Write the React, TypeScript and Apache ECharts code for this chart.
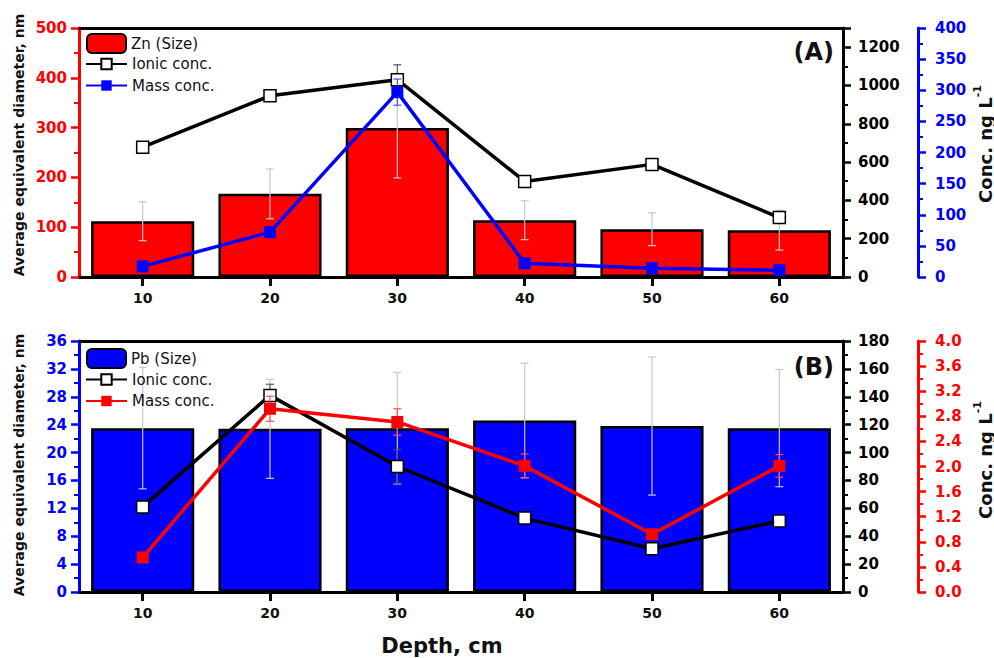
import React, { useEffect, useRef } from "react";
import * as echarts from "echarts";

const depths = ["10", "20", "30", "40", "50", "60"];

const znSize = [112, 167, 299, 114, 96, 94];
const znSizeErr = [39, 50, 100, 39, 33, 40];
const znIonic = [678, 946, 1030, 499, 588, 310];
const znIonicErr = [8, 12, 78, 8, 8, 15];
const znMass = [17, 72, 297, 22, 14, 11];
const znMassErr = [3, 3, 21, 3, 2, 2];

const pbSize = [23.5, 23.4, 23.5, 24.6, 23.8, 23.5];
const pbSizeErr = [8.7, 7.1, 8.0, 8.2, 9.9, 8.4];
const pbIonic = [61, 141, 90, 53, 31, 51];
const pbIonicErr = [3, 8, 12, 4, 3, 4];
const pbMass = [0.55, 2.92, 2.71, 2.01, 0.92, 2.01];
const pbMassErr = [0.05, 0.2, 0.21, 0.19, 0.05, 0.18];

const FONT = "DejaVu Sans, Liberation Sans, sans-serif";
const RED = "#ff0000";
const BLUE = "#0000ff";

function yAx(gridIndex: number, position: string, min: number, max: number, interval: number, color: string, extra: any = {}) {
  return {
    type: "value",
    gridIndex,
    position,
    min,
    max,
    interval,
    offset: extra.offset || 0,
    splitLine: { show: false },
    axisLine: { show: true, lineStyle: { color, width: 3 } },
    axisTick: { show: true, length: 8, lineStyle: { color, width: 2.5 } },
    minorTick: { show: true, splitNumber: 2, length: 5, lineStyle: { color, width: 2 } },
    axisLabel: {
      color,
      fontFamily: FONT,
      fontWeight: "bold",
      fontSize: 15,
      margin: extra.margin || 12,
      showMaxLabel: extra.showMaxLabel,
      formatter: extra.formatter || ((v: number) => String(v)),
    },
  };
}

function xAx(gridIndex: number, bottom: boolean) {
  return {
    type: "category",
    gridIndex,
    position: bottom ? "bottom" : "top",
    data: depths,
    axisLine: { show: true, onZero: false, lineStyle: { color: "#000", width: 3 } },
    axisTick: { show: bottom, alignWithLabel: true, length: 9, lineStyle: { color: "#000", width: 3 } },
    axisLabel: { show: bottom, color: "#111", fontFamily: FONT, fontWeight: "bold", fontSize: 14, margin: 14 },
    splitLine: { show: false },
  };
}

function errSeries(xAxisIndex: number, yAxisIndex: number, vals: number[], errs: number[], color: string, cap: number, width: number, z: number) {
  return {
    type: "custom",
    xAxisIndex,
    yAxisIndex,
    silent: true,
    z,
    data: vals.map((v, i) => [i, v - errs[i], v + errs[i]]),
    encode: { x: 0, y: [1, 2] },
    renderItem: (params: any, api: any) => {
      const x = api.value(0);
      const lo = api.coord([x, api.value(1)]);
      const hi = api.coord([x, api.value(2)]);
      const style = { stroke: color, lineWidth: width };
      return {
        type: "group",
        children: [
          { type: "line", shape: { x1: lo[0], y1: lo[1], x2: hi[0], y2: hi[1] }, style },
          { type: "line", shape: { x1: lo[0] - cap, y1: lo[1], x2: lo[0] + cap, y2: lo[1] }, style },
          { type: "line", shape: { x1: hi[0] - cap, y1: hi[1], x2: hi[0] + cap, y2: hi[1] }, style },
        ],
      };
    },
  };
}

function barSeries(name: string, xi: number, yi: number, data: number[], color: string) {
  return {
    name,
    type: "bar",
    xAxisIndex: xi,
    yAxisIndex: yi,
    data,
    z: 2,
    barCategoryGap: "19%",
    itemStyle: { color, borderColor: "#000", borderWidth: 2.5 },
  };
}

function lineSeries(name: string, xi: number, yi: number, data: number[], lineColor: string, fill: string, z: number) {
  return {
    name,
    type: "line",
    xAxisIndex: xi,
    yAxisIndex: yi,
    data,
    z,
    symbol: "rect",
    symbolSize: 12,
    lineStyle: { color: lineColor, width: 3.5 },
    itemStyle: { color: fill, borderColor: lineColor, borderWidth: fill === "#fff" ? 1.5 : 0 },
  };
}

const legendText = { fontFamily: FONT, fontSize: 15, color: "#111" };

export default function App() {
  const ref = useRef<HTMLDivElement>(null);
  useEffect(() => {
    if (!ref.current) return;
    const chart = echarts.init(ref.current, null, { renderer: "svg" });
    const titleLeft = "Average equivalent diameter, nm";
    const concRich = {
      a: { fontFamily: FONT, fontWeight: "bold", fontSize: 18, fill: "#111", verticalAlign: "bottom", lineHeight: 22 },
      b: { fontFamily: FONT, fontWeight: "bold", fontSize: 11, fill: "#111", verticalAlign: "top", lineHeight: 22 },
    };
    const option: any = {
      animation: false,
      backgroundColor: "#fff",
      grid: [
        { left: 79, top: 28, width: 764, height: 249 },
        { left: 79, top: 341, width: 764, height: 251 },
      ],
      legend: [
        { left: 86, top: 33, padding: 0, orient: "vertical", itemWidth: 39, itemHeight: 19, data: ["Zn (Size)"], textStyle: legendText, selectedMode: false },
        { left: 85, top: 56.5, padding: 0, orient: "vertical", itemWidth: 41, itemHeight: 13, itemGap: 6.5, data: ["Ionic conc.", "Mass conc."], textStyle: legendText, selectedMode: false },
        { left: 86, top: 348, padding: 0, orient: "vertical", itemWidth: 39, itemHeight: 19, data: ["Pb (Size)"], textStyle: legendText, selectedMode: false },
        { left: 85, top: 372, padding: 0, orient: "vertical", itemWidth: 41, itemHeight: 13, itemGap: 6.5, data: ["Ionic conc. ", "Mass conc. "], textStyle: legendText, selectedMode: false },
      ],
      xAxis: [xAx(0, true), xAx(0, false), xAx(1, true), xAx(1, false)],
      yAxis: [
        yAx(0, "left", 0, 500, 100, RED),
        yAx(0, "right", 0, 1300, 200, "#000", { margin: 15, showMaxLabel: false }),
        yAx(0, "right", 0, 400, 50, BLUE, { offset: 75, margin: 17 }),
        yAx(1, "left", 0, 36, 4, BLUE),
        yAx(1, "right", 0, 180, 20, "#000", { margin: 15 }),
        yAx(1, "right", 0, 4, 0.4, RED, { offset: 75, margin: 17, formatter: (v: number) => v.toFixed(1) }),
      ],
      series: [
        barSeries("Zn (Size)", 0, 0, znSize, RED),
        errSeries(0, 0, znSize, znSizeErr, "#c8c8c8", 4, 1.2, 3),
        errSeries(0, 1, znIonic, znIonicErr, "#555", 4, 1.2, 3),
        lineSeries("Ionic conc.", 0, 1, znIonic, "#000", "#fff", 4),
        errSeries(0, 2, znMass, znMassErr, "#4d4dff", 4, 1.2, 5),
        lineSeries("Mass conc.", 0, 2, znMass, BLUE, BLUE, 6),

        barSeries("Pb (Size)", 2, 3, pbSize, BLUE),
        errSeries(2, 3, pbSize, pbSizeErr, "#c8c8c8", 4, 1.2, 3),
        errSeries(2, 4, pbIonic, pbIonicErr, "#555", 4, 1.2, 3),
        lineSeries("Ionic conc. ", 2, 4, pbIonic, "#000", "#fff", 4),
        errSeries(2, 5, pbMass, pbMassErr, "#ff4d4d", 4, 1.2, 5),
        lineSeries("Mass conc. ", 2, 5, pbMass, RED, RED, 6),
      ],
      graphic: [
        { type: "text", x: 834, y: 52, style: { text: "(A)", font: `bold 24px ${FONT}`, fill: "#111", align: "right", verticalAlign: "middle" } },
        { type: "text", x: 834, y: 367, style: { text: "(B)", font: `bold 24px ${FONT}`, fill: "#111", align: "right", verticalAlign: "middle" } },
        { type: "text", x: 442, y: 646, style: { text: "Depth, cm", font: `bold 21px ${FONT}`, fill: "#111", align: "center", verticalAlign: "middle" } },
        { type: "text", x: 19, y: 145, rotation: Math.PI / 2, style: { text: titleLeft, font: `bold 14px ${FONT}`, fill: "#111", align: "center", verticalAlign: "middle" } },
        { type: "text", x: 19, y: 465, rotation: Math.PI / 2, style: { text: titleLeft, font: `bold 14px ${FONT}`, fill: "#111", align: "center", verticalAlign: "middle" } },
        { type: "text", x: 983, y: 144, rotation: Math.PI / 2, style: { text: "{a|Conc. ng L}{b|-1}", rich: concRich, align: "center", verticalAlign: "middle" } },
        { type: "text", x: 983, y: 460, rotation: Math.PI / 2, style: { text: "{a|Conc. ng L}{b|-1}", rich: concRich, align: "center", verticalAlign: "middle" } },
      ],
    };
    chart.setOption(option);
    return () => chart.dispose();
  }, []);
  return <div ref={ref} style={{ position: "fixed", left: 0, top: 0, width: 994, height: 658, background: "#fff" }} />;
}
